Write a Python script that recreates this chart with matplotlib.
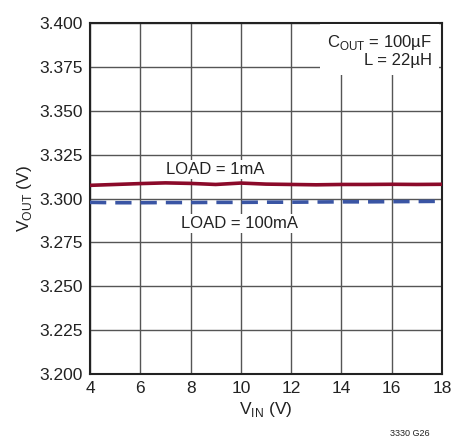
import matplotlib
matplotlib.use("Agg")
import matplotlib.pyplot as plt

plt.rcParams['font.family'] = ['Liberation Sans Narrow', 'Liberation Sans', 'DejaVu Sans']

# input voltage (V)
vin = [4, 5, 6, 7, 8, 9, 10, 11, 12, 13, 14, 15, 16, 17, 18]
# output voltage (V) at each load
vout_1ma = [3.3075, 3.3080, 3.3085, 3.3089, 3.3086, 3.3080, 3.3088, 3.3082,
            3.3080, 3.3078, 3.3080, 3.3080, 3.3081, 3.3080, 3.3081]
vout_100ma = [3.2978, 3.2976, 3.2976, 3.2977, 3.2977, 3.2978, 3.2978, 3.2979,
              3.2979, 3.2980, 3.2981, 3.2981, 3.2982, 3.2983, 3.2984]

xticks = [4, 6, 8, 10, 12, 14, 16, 18]
yticks = [3.200, 3.225, 3.250, 3.275, 3.300, 3.325, 3.350, 3.375, 3.400]

fig = plt.figure(figsize=(4.54, 4.38), dpi=100)
ax = fig.add_axes([90 / 454, 1 - 374 / 438, 352 / 454, 351 / 438])

ax.plot(vin, vout_1ma, color='#8b0a2a', lw=2.6, zorder=3)
ax.plot(vin, vout_100ma, color='#3a55a4', lw=2.6, ls=(0, (4.5, 2.5)), zorder=3)

ax.set_xlim(4, 18)
ax.set_ylim(3.2, 3.4)
ax.set_xticks(xticks)
ax.set_yticks(yticks)
ax.set_yticklabels(['%.3f' % v for v in yticks])
ax.grid(True, color='#555555', lw=1.0)
ax.tick_params(length=0, labelsize=12.5, colors='#222222', pad=5)
for s in ax.spines.values():
    s.set_linewidth(1.5)
    s.set_color('#222222')

ax.set_xlabel('V$_{\\mathregular{IN}}$ (V)', fontsize=12.5, color='#222222', labelpad=3)
ax.set_ylabel('V$_{\\mathregular{OUT}}$ (V)', fontsize=12.5, color='#222222', labelpad=4)

box = dict(facecolor='white', edgecolor='none', pad=1.5)
ax.text(9.0, 3.3165, 'LOAD = 1mA', ha='center', va='center', fontsize=12,
        color='#222222', bbox=box, zorder=4)
ax.text(9.95, 3.2855, 'LOAD = 100mA', ha='center', va='center', fontsize=12,
        color='#222222', bbox=box, zorder=4)
ax.text(17.6, 3.3845, 'C$_{\\mathregular{OUT}}$ = 100µF\nL = 22µH', ha='right',
        va='center', fontsize=12, color='#222222', linespacing=1.1,
        bbox=dict(facecolor='white', edgecolor='none', pad=5), zorder=4)

fig.text(430 / 454, 1 - 433 / 438, '3330 G26', ha='right', va='center',
         fontsize=6.5, color='#222222')

fig.savefig('out.png', dpi=100)
